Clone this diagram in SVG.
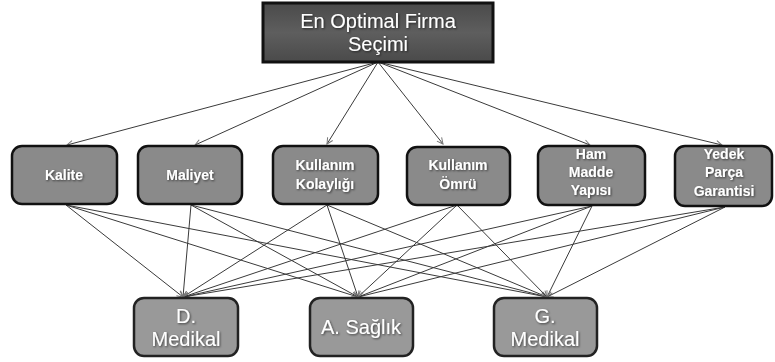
<svg xmlns="http://www.w3.org/2000/svg" width="775" height="362" viewBox="0 0 775 362">
<defs>
<linearGradient id="gTop" x1="0" y1="0" x2="0" y2="1">
<stop offset="0" stop-color="#4a4a4a"/><stop offset="0.5" stop-color="#5e5e5e"/><stop offset="1" stop-color="#4a4a4a"/>
</linearGradient>
<filter id="sh" x="-10%" y="-10%" width="120%" height="130%">
<feDropShadow dx="1" dy="1" stdDeviation="0.8" flood-color="#000" flood-opacity="0.6"/>
</filter>
<marker id="ah" markerWidth="8" markerHeight="8" refX="7" refY="4" orient="auto" markerUnits="userSpaceOnUse">
<path d="M1,1 L7,4 L1,7" fill="none" stroke="#777" stroke-width="1"/>
</marker>
</defs>
<style>
.top{fill:url(#gTop);stroke:#111;stroke-width:3}
.mid{fill:#8a8a8a;stroke:#111;stroke-width:2.5}
.bot{fill:#999;stroke:#222;stroke-width:2.5}
.t{fill:#fff;font-family:"Liberation Sans",Arial,sans-serif;text-anchor:middle;filter:url(#sh)}
.tt{font-size:20px}
.tm{font-size:14px;font-weight:bold}
.tb{font-size:20px}
.c{stroke:#3a3a3a;stroke-width:1;fill:none}
.ca{marker-end:url(#ah)}
</style>
<rect width="775" height="362" fill="#fff"/>
<g id="connectors">
<g class="c ca">
<line x1="378" y1="62" x2="67" y2="145"/>
<line x1="378" y1="62" x2="195" y2="145"/>
<line x1="378" y1="62" x2="327" y2="144"/>
<line x1="378" y1="62" x2="443" y2="144"/>
<line x1="378" y1="62" x2="590" y2="145"/>
<line x1="378" y1="62" x2="722" y2="145"/>
</g>
<g class="c ca">
<line x1="66" y1="205" x2="183" y2="297"/>
<line x1="66" y1="205" x2="358" y2="297"/>
<line x1="66" y1="205" x2="547" y2="297"/>
<line x1="191" y1="205" x2="183" y2="297"/>
<line x1="191" y1="205" x2="358" y2="297"/>
<line x1="191" y1="205" x2="547" y2="297"/>
<line x1="327" y1="205" x2="183" y2="297"/>
<line x1="327" y1="205" x2="358" y2="297"/>
<line x1="327" y1="205" x2="547" y2="297"/>
<line x1="457" y1="205" x2="183" y2="297"/>
<line x1="457" y1="205" x2="358" y2="297"/>
<line x1="457" y1="205" x2="547" y2="297"/>
<line x1="592" y1="206" x2="183" y2="297"/>
<line x1="592" y1="206" x2="358" y2="297"/>
<line x1="592" y1="206" x2="547" y2="297"/>
<line x1="725" y1="207" x2="183" y2="297"/>
<line x1="725" y1="207" x2="358" y2="297"/>
<line x1="725" y1="207" x2="547" y2="297"/>
</g>
</g>
<g id="n-top">
<rect class="top" x="263" y="3" width="230" height="59"/>
<text class="t tt" x="378" y="28">En Optimal Firma</text>
<text class="t tt" x="378" y="51">Seçimi</text>
</g>
<g id="n-kalite">
<rect class="mid" x="12" y="146" width="105" height="58" rx="10"/>
<text class="t tm" x="64" y="180">Kalite</text>
</g>
<g id="n-maliyet">
<rect class="mid" x="138" y="146" width="104" height="58" rx="10"/>
<text class="t tm" x="190" y="180">Maliyet</text>
</g>
<g id="n-kolaylik">
<rect class="mid" x="273" y="146" width="105" height="58" rx="10"/>
<text class="t tm" x="325" y="170">Kullanım</text>
<text class="t tm" x="325" y="189">Kolaylığı</text>
</g>
<g id="n-omru">
<rect class="mid" x="407" y="147" width="103" height="58" rx="10"/>
<text class="t tm" x="458" y="170">Kullanım</text>
<text class="t tm" x="458" y="189">Ömrü</text>
</g>
<g id="n-hammadde">
<rect class="mid" x="538" y="146" width="107" height="59" rx="10"/>
<text class="t tm" x="591" y="159">Ham</text>
<text class="t tm" x="591" y="177">Madde</text>
<text class="t tm" x="591" y="195">Yapısı</text>
</g>
<g id="n-yedek">
<rect class="mid" x="675" y="146" width="97" height="60" rx="10"/>
<text class="t tm" x="724" y="159">Yedek</text>
<text class="t tm" x="724" y="177">Parça</text>
<text class="t tm" x="724" y="196">Garantisi</text>
</g>
<g id="n-dmedikal">
<rect class="bot" x="134" y="298" width="104" height="58" rx="10"/>
<text class="t tb" x="186" y="323">D.</text>
<text class="t tb" x="186" y="346">Medikal</text>
</g>
<g id="n-asaglik">
<rect class="bot" x="310" y="298" width="103" height="58" rx="10"/>
<text class="t tb" x="361" y="334">A. Sağlık</text>
</g>
<g id="n-gmedikal">
<rect class="bot" x="494" y="298" width="103" height="58" rx="10"/>
<text class="t tb" x="545" y="323">G.</text>
<text class="t tb" x="545" y="346">Medikal</text>
</g>
</svg>
